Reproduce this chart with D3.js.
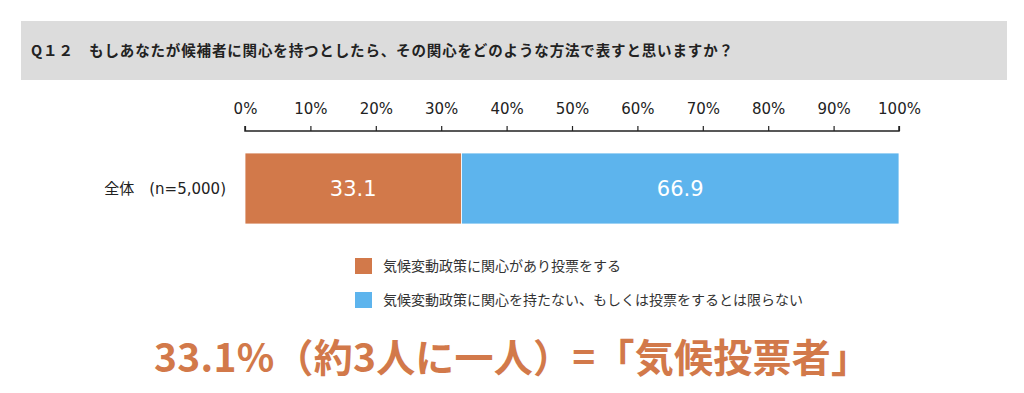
<!DOCTYPE html>
<html>
<head>
<meta charset="utf-8">
<script src="https://cdn.jsdelivr.net/npm/d3@7"></script>
<style>
	body { margin: 0; background: #fff; }
	svg { display: block; }
	text { font-family: "DejaVu Sans", "Noto Sans CJK JP", sans-serif; }
</style>
</head>
<body>
<svg id="chart"></svg>
<script>
// Q12 stacked bar

const title = "Q１２　もしあなたが候補者に関心を持つとしたら、その関心をどのような方法で表すと思いますか？";
const categories = ["全体　(n=5,000)"];
const seriesNames = ["気候変動政策に関心があり投票をする", "気候変動政策に関心を持たない、もしくは投票をするとは限らない"];
const seriesValues = [[33.1], [66.9]];
const seriesColors = ["#D2794A", "#5DB4ED"];
const tickValues = [0, 10, 20, 30, 40, 50, 60, 70, 80, 90, 100];
const headline = "33.1%（約3人に一人）=「気候投票者」";

const WIDTH = 1024, HEIGHT = 393;
const MARGIN = {left: 245, right: 125};

const svg = d3.select("#chart").attr("width", WIDTH).attr("height", HEIGHT);

// Header box
svg.append("rect")
	.attr("x", 21).attr("y", 21)
	.attr("width", 986).attr("height", 59)
	.attr("fill", "#dcdcdc");

svg.append("text")
	.attr("x", 31).attr("y", 56)
	.attr("font-size", 14.5)
	.attr("font-weight", "bold")
	.attr("fill", "#222")
	.attr("textLength", 702)
	.attr("lengthAdjust", "spacing")
	.style("font-family", "'Noto Sans CJK JP', sans-serif")
	.text(title);

const xScale = d3.scaleLinear().domain([0, 100]).range([MARGIN.left, WIDTH - MARGIN.right]);
const yScale = d3.scaleBand().domain(categories).range([153, 224]);

// Axis on top
const axis = svg.append("g")
	.attr("transform", "translate(0,131)")
	.call(d3.axisTop(xScale).tickValues(tickValues).tickSize(5).tickPadding(12).tickFormat(d => d + "%"));
axis.select(".domain").attr("stroke", "#222").attr("stroke-width", 1.5)
	.attr("d", `M${xScale(0)},-5V0H${xScale(100)}V-5`);
axis.selectAll(".tick line").attr("stroke", "#222").attr("stroke-width", 1.2);
axis.selectAll(".tick text")
	.attr("font-size", 15)
	.attr("fill", "#222")
	.style("font-family", "'DejaVu Sans', sans-serif");

// Stacked bars
const stackData = categories.map((c, i) => {
	let x0 = 0;
	return seriesValues.map((vals, s) => {
		const seg = {cat: c, s: s, x0: x0, x1: x0 + vals[i], v: vals[i]};
		x0 += vals[i];
		return seg;
	});
}).flat();

svg.selectAll(".bar")
	.data(stackData)
	.enter()
	.append("rect")
	.attr("class", "bar")
	.attr("x", d => xScale(d.x0))
	.attr("y", d => yScale(d.cat))
	.attr("width", d => xScale(d.x1) - xScale(d.x0))
	.attr("height", yScale.bandwidth())
	.attr("fill", d => seriesColors[d.s])
	.attr("stroke", "#fff")
	.attr("stroke-width", 0.8);

svg.selectAll(".bar-label")
	.data(stackData)
	.enter()
	.append("text")
	.attr("x", d => (xScale(d.x0) + xScale(d.x1)) / 2)
	.attr("y", d => yScale(d.cat) + yScale.bandwidth() / 2)
	.attr("dy", "0.35em")
	.attr("text-anchor", "middle")
	.attr("font-size", 21)
	.attr("fill", "#fff")
	.text(d => d.v.toFixed(1));

// Category labels
svg.selectAll(".cat-label")
	.data(categories)
	.enter()
	.append("text")
	.attr("x", 226)
	.attr("y", d => yScale(d) + yScale.bandwidth() / 2)
	.attr("dy", "0.35em")
	.attr("text-anchor", "end")
	.attr("font-size", 15)
	.attr("fill", "#222")
	.text(d => d);

// Legend
const legend = svg.selectAll(".legend")
	.data(seriesNames)
	.enter()
	.append("g")
	.attr("transform", (d, i) => `translate(355, ${258 + i * 34})`);

legend.append("rect")
	.attr("width", 17).attr("height", 16)
	.attr("fill", (d, i) => seriesColors[i]);

legend.append("text")
	.attr("x", 28).attr("y", 8)
	.attr("dy", "0.35em")
	.attr("font-size", 14)
	.attr("fill", "#333")
	.style("font-family", "'Noto Sans CJK JP', sans-serif")
	.text(d => d);

// Headline
svg.append("text")
	.attr("x", 154).attr("y", 358)
	.attr("dy", "0.35em")
	.attr("font-size", 39)
	.attr("font-weight", "bold")
	.attr("fill", seriesColors[0])
	.attr("textLength", 716)
	.attr("lengthAdjust", "spacing")
	.style("font-family", "'Noto Sans CJK JP', sans-serif")
	.text(headline);
</script>
</body>
</html>
